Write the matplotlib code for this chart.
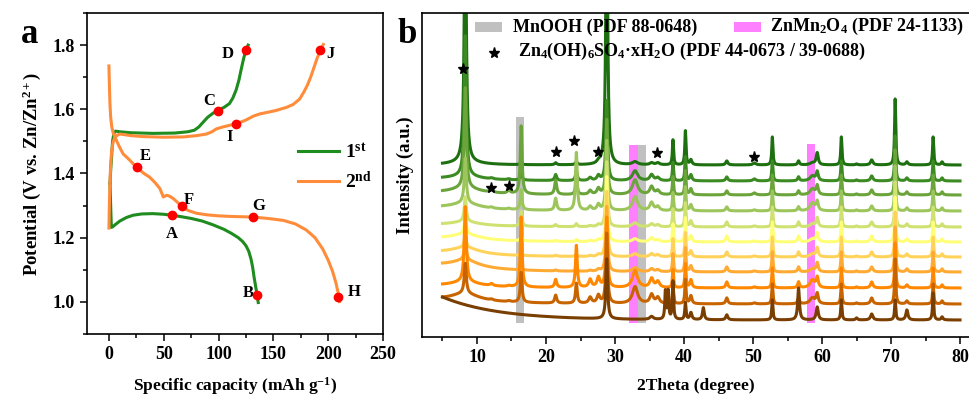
import numpy as np
import matplotlib
matplotlib.use("Agg")
import matplotlib.pyplot as plt
from matplotlib.patches import Rectangle
from matplotlib.ticker import MultipleLocator

plt.rcParams['font.family'] = ['Liberation Serif', 'DejaVu Serif']
plt.rcParams['font.weight'] = 'bold'
plt.rcParams['mathtext.fontset'] = 'custom'
plt.rcParams['mathtext.rm'] = 'Liberation Serif:bold'
plt.rcParams['mathtext.bf'] = 'Liberation Serif:bold'
plt.rcParams['mathtext.it'] = 'Liberation Serif:bold:italic'
plt.rcParams['axes.linewidth'] = 1.2

# ---------------- Panel a data: charge/discharge profiles ----------------
g_dis_cap = [1.0, 1.6, 2.2, 3.5, 5.5, 10, 16, 22, 30, 40, 50, 57, 65, 75, 85, 95, 105, 112, 118, 122, 125, 127.5, 129.5, 131, 132.5, 134, 135.2, 136.2]
g_dis_v = [1.37, 1.30, 1.232, 1.234, 1.240, 1.252, 1.263, 1.270, 1.274, 1.275, 1.273, 1.270, 1.266, 1.260, 1.252, 1.240, 1.226, 1.213, 1.200, 1.188, 1.175, 1.158, 1.135, 1.110, 1.075, 1.045, 1.020, 0.998]
g_chg_cap = [1.0, 1.6, 2.4, 3.3, 4.5, 6, 10, 20, 40, 60, 72, 78, 82, 86, 90, 95, 100, 105, 110, 113, 116, 118.5, 121, 123, 125, 127]
g_chg_v = [1.37, 1.41, 1.45, 1.50, 1.525, 1.532, 1.530, 1.527, 1.525, 1.526, 1.530, 1.535, 1.545, 1.560, 1.575, 1.588, 1.598, 1.606, 1.618, 1.635, 1.66, 1.69, 1.73, 1.76, 1.785, 1.80]
o_dis_cap = [0, 0.4, 0.9, 1.6, 2.6, 4, 7, 10, 13, 18, 25, 32, 37, 42, 46.5, 49.6, 52.6, 55, 58.7, 62, 66.3, 72, 80, 90, 100, 113, 125, 132, 145, 159, 170, 180, 188, 195, 200, 204, 207, 209, 210.2]
o_dis_v = [1.735, 1.68, 1.62, 1.575, 1.545, 1.525, 1.502, 1.48, 1.461, 1.445, 1.42, 1.400, 1.389, 1.372, 1.353, 1.327, 1.332, 1.330, 1.322, 1.312, 1.298, 1.285, 1.276, 1.271, 1.268, 1.266, 1.265, 1.264, 1.260, 1.254, 1.243, 1.224, 1.200, 1.165, 1.130, 1.095, 1.060, 1.030, 1.001]
o_chg_cap = [0, 0.4, 1.0, 1.8, 2.6, 4, 5.5, 8, 10, 20, 31, 50, 68, 80, 89, 94, 98, 104, 110, 116, 124, 132, 138, 144, 152, 162, 168, 174, 178, 181, 184, 187, 190, 193, 195.6]
o_chg_v = [1.23, 1.30, 1.38, 1.44, 1.475, 1.50, 1.513, 1.520, 1.523, 1.518, 1.515, 1.513, 1.514, 1.518, 1.523, 1.530, 1.539, 1.545, 1.550, 1.555, 1.565, 1.579, 1.586, 1.590, 1.596, 1.606, 1.615, 1.632, 1.655, 1.675, 1.70, 1.73, 1.76, 1.785, 1.802]

mark_labels = ['A', 'B', 'C', 'D', 'E', 'F', 'G', 'H', 'I', 'J']
mark_cap = [57.2, 134.7, 99.7, 124.7, 25.2, 66.3, 131.7, 208.6, 115.9, 192.5]
mark_v = [1.270, 1.022, 1.595, 1.785, 1.420, 1.298, 1.265, 1.015, 1.554, 1.784]
label_cap = [57, 127, 91, 108, 33, 73, 137, 224, 110, 202]
label_v = [1.213, 1.027, 1.626, 1.771, 1.456, 1.316, 1.300, 1.032, 1.513, 1.771]

# ---------------- Panel b data: XRD peak tables ----------------
peak_pos = [8.3, 12.1, 14.6, 16.4, 21.4, 24.4, 26.4, 27.6, 28.8, 32.9, 35.3, 36.2, 37.3, 37.7,
            38.4, 40.2, 41.0, 42.8, 46.2, 50.2, 52.8, 56.6, 58.6, 59.3, 62.8, 65.0, 67.2, 70.6,
            72.3, 76.1, 77.4]
peak_fwhm = [0.35, 0.5, 0.5, 0.3, 0.35, 0.3, 0.5, 0.5, 0.3, 0.9, 0.6, 0.6, 0.2, 0.2,
             0.2, 0.2, 0.35, 0.3, 0.35, 0.5, 0.2, 0.3, 0.8, 0.35, 0.2, 0.3, 0.4, 0.2,
             0.35, 0.2, 0.3]
h_c1 = [260, 0, 0, 2, 2, 3, 0, 2, 300, 3, 2, 2, 0, 0, 25, 34, 5, 0, 4, 2, 28, 4, 2, 12, 28, 1, 5, 66, 3, 28, 3]
h_c2 = [140, 1, 1, 8, 6, 10, 3, 5, 80, 10, 6, 3, 0, 0, 18, 24, 6, 0, 4, 2, 20, 4, 5, 9, 20, 1, 5, 45, 3, 20, 3]
h_c3 = [100, 3, 3, 68, 14, 15, 4, 6, 75, 15, 8, 4, 0, 0, 18, 24, 6, 0, 4, 2, 20, 4, 6, 9, 20, 1, 5, 45, 3, 20, 3]
h_c4 = [45, 1, 1, 20, 12, 58, 4, 6, 70, 14, 8, 4, 0, 0, 18, 24, 6, 0, 4, 1, 20, 4, 8, 9, 20, 1, 5, 45, 3, 20, 3]
h_c5 = [25, 0, 0, 15, 2, 3, 1, 2, 65, 4, 3, 2, 0, 0, 18, 24, 6, 0, 5, 1, 20, 5, 3, 9, 20, 1, 5, 45, 3, 20, 3]
h_c6 = [18, 0, 0, 5, 1, 2, 1, 2, 65, 3, 4, 2, 0, 0, 18, 24, 6, 0, 6, 1, 20, 6, 3, 9, 20, 1, 6, 45, 3, 20, 3]
h_c7 = [12, 0, 0, 3, 1, 2, 1, 2, 65, 3, 3, 2, 0, 0, 18, 24, 6, 0, 5, 1, 20, 5, 3, 9, 20, 1, 5, 45, 3, 20, 3]
h_c8 = [20, 0, 0, 3, 1, 3, 1, 2, 65, 4, 3, 2, 0, 0, 18, 24, 6, 0, 5, 1, 20, 5, 3, 9, 20, 1, 5, 45, 3, 20, 3]
h_c9 = [75, 2, 1, 70, 8, 42, 8, 10, 70, 17, 9, 6, 0, 0, 18, 24, 8, 0, 6, 1, 20, 6, 8, 10, 20, 1, 6, 45, 3, 20, 3]
h_c10 = [30, 1, 1, 30, 8, 20, 6, 8, 70, 17, 9, 6, 0, 0, 18, 24, 8, 0, 6, 1, 20, 6, 6, 10, 20, 1, 6, 45, 3, 20, 3]
h_c11 = [0, 0, 0, 0, 0, 0, 0, 0, 60, 0, 3, 0, 28, 28, 38, 17, 7, 12, 5, 0, 20, 32, 0, 13, 20, 2, 6, 20, 10, 27, 3]
xrd_heights = [h_c1, h_c2, h_c3, h_c4, h_c5, h_c6, h_c7, h_c8, h_c9, h_c10, h_c11]
xrd_baseline = [172, 156, 142, 126, 110, 95, 80, 65, 49, 33, 17]
xrd_hump = [3, 4, 6, 6, 4, 6, 7, 8, 5, 8, 0]
xrd_lowangle = [0, 2, 2, 3, 2, 3, 4, 6, 2, 4, 23]
xrd_colors = ['#1d6f10', '#3b8a22', '#6aa43a', '#9cc55c', '#cfe170', '#ffff77',
              '#ffd35a', '#ffaa33', '#ff8800', '#c86400', '#7a3e00']

# reference bands (2theta ranges and tops)
band_lo = [15.7, 33.3, 32.1, 57.8]
band_hi = [16.8, 34.5, 33.3, 59.0]
band_top = [220, 192, 192, 193]
band_color = ['#c0c0c0', '#c0c0c0', '#ff80ff', '#ff80ff']
band_bottom = 14

star_x = [8.0, 12.0, 14.6, 21.5, 24.1, 27.5, 36.1, 50.1]
star_y = [268, 149, 151, 185, 196, 185, 184, 180]

# ---------------- Figure ----------------
fig = plt.figure(figsize=(9.69, 3.99), dpi=100)
ax1 = fig.add_axes([87/969, 65/399, 296/969, 321/399])
ax2 = fig.add_axes([422/969, 62/399, 547/969, 324/399])

green = '#1e8c1e'
orange = '#ff8c3a'
ax1.plot(g_dis_cap, g_dis_v, color=green, lw=2.2)
ax1.plot(g_chg_cap, g_chg_v, color=green, lw=2.2, label='1$^{\\mathrm{st}}$')
ax1.plot(o_dis_cap, o_dis_v, color=orange, lw=2.2)
ax1.plot(o_chg_cap, o_chg_v, color=orange, lw=2.2, label='2$^{\\mathrm{nd}}$')
ax1.plot(mark_cap, mark_v, 'o', color='red', ms=6, zorder=5)
for lab, xc, yv in zip(mark_labels, label_cap, label_v):
    ax1.text(xc, yv, lab, fontsize=12, fontweight='bold', ha='center', va='center')

ax1.set_xlim(-20, 250)
ax1.set_ylim(0.9, 1.9)
ax1.xaxis.set_major_locator(MultipleLocator(50))
ax1.xaxis.set_minor_locator(MultipleLocator(25))
ax1.yaxis.set_major_locator(MultipleLocator(0.2))
ax1.yaxis.set_minor_locator(MultipleLocator(0.1))
ax1.tick_params(which='both', direction='out', top=False, right=False, labelsize=13, width=1.1)
ax1.tick_params(which='major', length=5)
ax1.tick_params(which='minor', length=3)
ax1.set_xlabel('Specific capacity (mAh g$^{-1}$)', fontsize=12.5, fontweight='bold', labelpad=9)
ax1.set_ylabel('Potential (V vs. Zn/Zn$^{2+}$)', fontsize=13.5, fontweight='bold', labelpad=7)
ax1.legend(loc='upper left', bbox_to_anchor=(0.68, 0.627), frameon=False, fontsize=14,
           handlelength=2.1, handletextpad=0.3, labelspacing=0.45, borderpad=0)

# Panel b
theta = np.arange(5.0, 80.0001, 0.02)
for heights, base, hump, low, col in zip(xrd_heights, xrd_baseline, xrd_hump, xrd_lowangle, xrd_colors):
    prof = np.full_like(theta, float(base))
    for p, w, h in zip(peak_pos, peak_fwhm, heights):
        if h:
            g = w / 2.0
            prof += h * g**2 / ((theta - p)**2 + g**2)
    prof += hump * 2.5**2 / ((theta - 8.3)**2 + 2.5**2)
    prof += low * np.exp(-(theta - 5.0) / 8.0)
    ax2.plot(theta, prof, color=col, lw=2.2, zorder=2)

for lo, hi, top, col in zip(band_lo, band_hi, band_top, band_color):
    ax2.add_patch(Rectangle((lo, band_bottom), hi - lo, top - band_bottom, facecolor=col,
                            edgecolor='none', zorder=1))
ax2.plot(star_x, star_y, '*', color='black', ms=8, zorder=4, linestyle='none')

ax2.set_xlim(2.03, 81.3)
ax2.set_ylim(0, 324)
ax2.set_yticks([])
ax2.spines['right'].set_visible(False)
ax2.xaxis.set_major_locator(MultipleLocator(10))
ax2.xaxis.set_minor_locator(MultipleLocator(5))
ax2.tick_params(which='both', direction='out', top=False, labelsize=13, width=1.1)
ax2.tick_params(which='major', length=5)
ax2.tick_params(which='minor', length=3)
ax2.set_xlabel('2Theta (degree)', fontsize=12.5, fontweight='bold', labelpad=9)
ax2.set_ylabel('Intensity (a.u.)', fontsize=13.5, fontweight='bold', labelpad=6)

# legend of panel b (drawn in axes coordinates)
ax2.add_patch(Rectangle((0.097, 0.942), 0.049, 0.031, transform=ax2.transAxes,
                        facecolor='#c0c0c0', edgecolor='none', clip_on=False))
ax2.text(0.166, 0.957, 'MnOOH (PDF 88-0648)', transform=ax2.transAxes, fontsize=13,
         fontweight='bold', va='center', ha='left')
ax2.add_patch(Rectangle((0.570, 0.942), 0.050, 0.031, transform=ax2.transAxes,
                        facecolor='#ff80ff', edgecolor='none', clip_on=False))
ax2.text(0.636, 0.957, 'ZnMn$_2$O$_4$ (PDF 24-1133)', transform=ax2.transAxes, fontsize=13,
         fontweight='bold', va='center', ha='left')
ax2.plot([0.131], [0.876], '*', color='black', ms=8, transform=ax2.transAxes, clip_on=False)
ax2.text(0.1755, 0.880, 'Zn$_4$(OH)$_6$SO$_4$·xH$_2$O (PDF 44-0673 / 39-0688)',
         transform=ax2.transAxes, fontsize=13, fontweight='bold', va='center', ha='left')

fig.text(0.022, 0.892, 'a', fontsize=25, fontweight='bold', ha='left', va='baseline')
fig.text(0.410, 0.892, 'b', fontsize=25, fontweight='bold', ha='left', va='baseline')

fig.savefig('out.png', dpi=100)
